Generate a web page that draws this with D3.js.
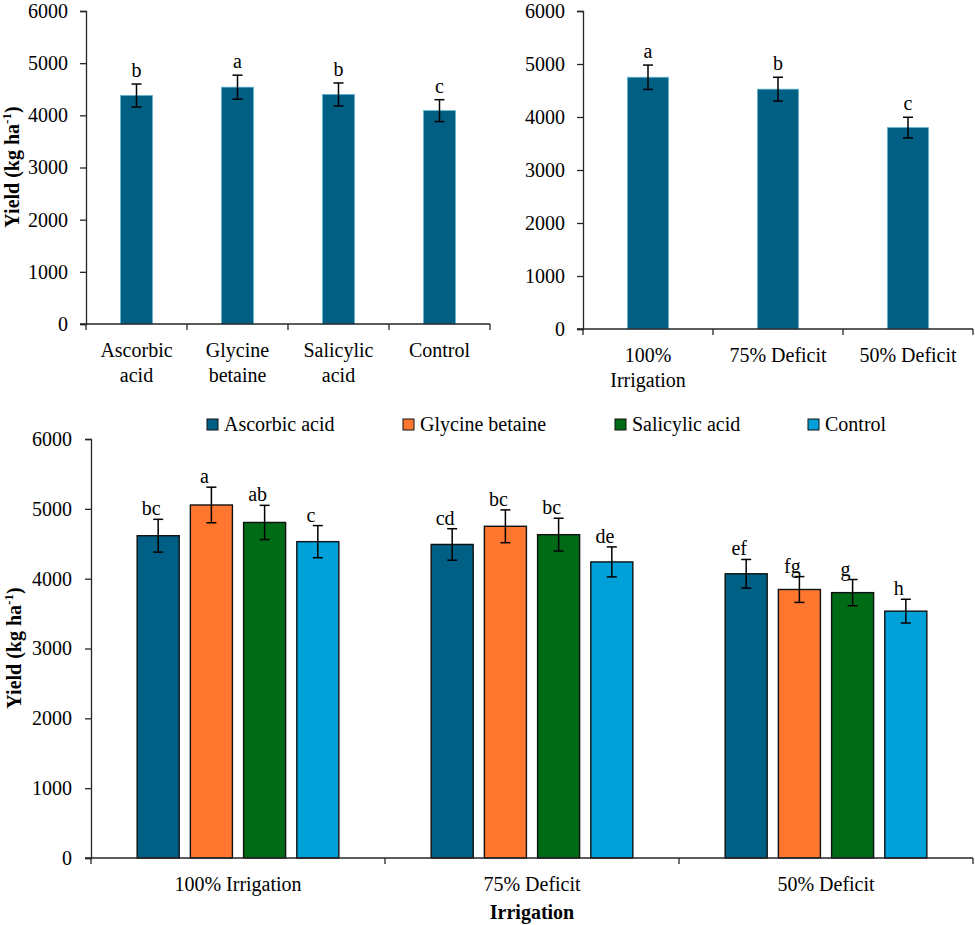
<!DOCTYPE html>
<html>
<head>
<meta charset="utf-8">
<script src="https://cdn.jsdelivr.net/npm/d3@7"></script>
<style>
  body { margin: 0; background: #fff; }
  svg { display: block; }
  svg text { font-family: "Liberation Serif", "Times New Roman", serif; }
</style>
</head>
<body>
<svg id="chart" width="975" height="925"></svg>
<script>
// ---------- data ----------
const yTicks = [0, 1000, 2000, 3000, 4000, 5000, 6000];

// Panel A: foliar treatments (main effect)
const treatCats = [["Ascorbic", "acid"], ["Glycine", "betaine"], ["Salicylic", "acid"], ["Control"]];
const treatMeans = [4380, 4540, 4400, 4090];
const treatErr = [220, 230, 220, 210];
const treatLetters = ["b", "a", "b", "c"];

// Panel B: irrigation (main effect)
const irrCats = [["100%", "Irrigation"], ["75% Deficit"], ["50% Deficit"]];
const irrMeans = [4750, 4525, 3800];
const irrErr = [230, 225, 195];
const irrLetters = ["a", "b", "c"];

// Panel C: interaction
const groups = ["100% Irrigation", "75% Deficit", "50% Deficit"];
const series = ["Ascorbic acid", "Glycine betaine", "Salicylic acid", "Control"];
const colors = ["#005F84", "#FF772F", "#006B17", "#00A0D8"];
const interMeans = [
  [4615, 5055, 4805, 4530],   // 100% Irrigation
  [4490, 4750, 4630, 4240],   // 75% Deficit
  [4070, 3845, 3800, 3535]    // 50% Deficit
];
const interErr = [
  [235, 255, 245, 230],
  [225, 235, 235, 215],
  [205, 185, 188, 170]
];
const interLetters = [
  ["bc", "a", "ab", "c"],
  ["cd", "bc", "bc", "de"],
  ["ef", "fg", "g", "h"]
];

// ---------- drawing ----------
const FONT = "Liberation Serif, Times New Roman, serif";
const svg = d3.select("#chart");
const axisColor = "#262626";

function yAxisTitle(g, x, y) {
  const t = g.append("text")
    .attr("transform", `translate(${x},${y}) rotate(-90)`)
    .attr("text-anchor", "middle")
    .attr("font-family", FONT)
    .attr("font-weight", "bold")
    .attr("font-size", 20)
    .attr("fill", "#000");
  t.append("tspan").text("Yield (kg ha");
  t.append("tspan").attr("dy", -8).attr("font-size", 13).text("-1");
  t.append("tspan").attr("dy", 8).text(")");
}

function styleAxis(g) {
  g.attr("font-family", FONT);
  g.selectAll(".domain").attr("stroke", axisColor).attr("stroke-width", 1.3);
  g.selectAll(".tick line").attr("stroke", axisColor).attr("stroke-width", 1.3);
  g.selectAll(".tick text").attr("fill", "#000").attr("font-size", 20).attr("font-family", FONT);
}

function simplePanel(opts) {
  const { x0, x1, yTop, yBot, cats, means, errs, letters, labelBase } = opts;
  const g = svg.append("g").attr("font-family", FONT);
  const y = d3.scaleLinear().domain([0, 6000]).range([yBot, yTop]);
  const x = d3.scaleBand().domain(d3.range(cats.length)).range([x0, x1]).paddingInner(0).paddingOuter(0);
  const bw = x.bandwidth() * 0.315;

  g.selectAll("rect.bar").data(means).join("rect")
    .attr("class", "bar")
    .attr("x", (d, i) => x(i) + x.bandwidth() / 2 - bw / 2)
    .attr("y", d => y(d))
    .attr("width", bw)
    .attr("height", d => yBot - y(d))
    .attr("fill", "#005F82")
    .attr("stroke", "#5FB3CC")
    .attr("stroke-width", 0.8);

  const ya = g.append("g").attr("transform", `translate(${x0},0)`)
    .call(d3.axisLeft(y).tickValues(yTicks).tickFormat(d3.format("d")).tickSize(6).tickPadding(12));
  styleAxis(ya);

  const xa = g.append("g").attr("transform", `translate(0,${yBot})`);
  xa.append("line").attr("x1", x0 - 6).attr("x2", x1).attr("y1", 0).attr("y2", 0)
    .attr("stroke", axisColor).attr("stroke-width", 1.3);
  const bounds = d3.range(cats.length + 1).map(i => i < cats.length ? x(i) : x1);
  xa.selectAll("line.tk").data(bounds).join("line").attr("class", "tk")
    .attr("x1", d => d).attr("x2", d => d).attr("y1", 0).attr("y2", 6)
    .attr("stroke", axisColor).attr("stroke-width", 1.3);
  cats.forEach((lines, i) => {
    const t = xa.append("text").attr("text-anchor", "middle").attr("font-size", 20)
      .attr("font-family", FONT).attr("fill", "#000");
    lines.forEach((ln, j) => {
      t.append("tspan").attr("x", x(i) + x.bandwidth() / 2).attr("y", labelBase - yBot + j * 25).text(ln);
    });
  });

  const cap = 5;
  means.forEach((m, i) => {
    const cx = x(i) + x.bandwidth() / 2;
    const e = errs[i];
    g.append("line").attr("x1", cx).attr("x2", cx).attr("y1", y(m + e)).attr("y2", y(m - e)).attr("stroke", "#000").attr("stroke-width", 1.5);
    g.append("line").attr("x1", cx - cap).attr("x2", cx + cap).attr("y1", y(m + e)).attr("y2", y(m + e)).attr("stroke", "#000").attr("stroke-width", 1.5);
    g.append("line").attr("x1", cx - cap).attr("x2", cx + cap).attr("y1", y(m - e)).attr("y2", y(m - e)).attr("stroke", "#000").attr("stroke-width", 1.5);
    g.append("text").attr("x", cx).attr("y", y(m + e) - 7).attr("text-anchor", "middle")
      .attr("font-family", FONT).attr("font-size", 20).attr("fill", "#000").text(letters[i]);
  });
  return g;
}

// Panel A
const gA = simplePanel({ x0: 86, x1: 490, yTop: 11, yBot: 324, cats: treatCats, means: treatMeans, errs: treatErr, letters: treatLetters, labelBase: 357 });
yAxisTitle(gA, 19, 167);

// Panel B
simplePanel({ x0: 583, x1: 973, yTop: 11, yBot: 329, cats: irrCats, means: irrMeans, errs: irrErr, letters: irrLetters, labelBase: 362 });

// Panel C
(function () {
  const x0 = 91, x1 = 973, yTop = 439, yBot = 858;
  const g = svg.append("g").attr("font-family", FONT);
  const y = d3.scaleLinear().domain([0, 6000]).range([yBot, yTop]);
  const x = d3.scaleBand().domain(groups).range([x0, x1]).paddingInner(0).paddingOuter(0);
  const inner = d3.scaleBand().domain(series)
    .range([x.bandwidth() * 0.157, x.bandwidth() * 0.843]).paddingInner(0.21).paddingOuter(0);

  groups.forEach((grp, gi) => {
    const gg = g.append("g").attr("transform", `translate(${x(grp)},0)`);
    gg.selectAll("rect").data(interMeans[gi]).join("rect")
      .attr("x", (d, si) => inner(series[si]))
      .attr("y", d => y(d))
      .attr("width", inner.bandwidth())
      .attr("height", d => yBot - y(d))
      .attr("fill", (d, si) => colors[si])
      .attr("stroke", "#111")
      .attr("stroke-width", 1.4);
  });

  const ya = g.append("g").attr("transform", `translate(${x0},0)`)
    .call(d3.axisLeft(y).tickValues(yTicks).tickFormat(d3.format("d")).tickSize(6).tickPadding(13));
  styleAxis(ya);

  const xa = g.append("g").attr("transform", `translate(0,${yBot})`);
  xa.append("line").attr("x1", x0 - 6).attr("x2", x1).attr("y1", 0).attr("y2", 0)
    .attr("stroke", axisColor).attr("stroke-width", 1.3);
  const bounds = groups.map(gname => x(gname)).concat([x1]);
  xa.selectAll("line.tk").data(bounds).join("line").attr("class", "tk")
    .attr("x1", d => d).attr("x2", d => d).attr("y1", 0).attr("y2", 6)
    .attr("stroke", axisColor).attr("stroke-width", 1.3);
  xa.selectAll("text.cat").data(groups).join("text").attr("class", "cat")
    .attr("x", d => x(d) + x.bandwidth() / 2).attr("y", 33)
    .attr("text-anchor", "middle").attr("font-family", FONT).attr("font-size", 20).attr("fill", "#000").text(d => d);

  const cap = 5;
  groups.forEach((grp, gi) => {
    series.forEach((s, si) => {
      const cx = x(grp) + inner(s) + inner.bandwidth() / 2;
      const m = interMeans[gi][si], e = interErr[gi][si];
      g.append("line").attr("x1", cx).attr("x2", cx).attr("y1", y(m + e)).attr("y2", y(m - e)).attr("stroke", "#000").attr("stroke-width", 1.5);
      g.append("line").attr("x1", cx - cap).attr("x2", cx + cap).attr("y1", y(m + e)).attr("y2", y(m + e)).attr("stroke", "#000").attr("stroke-width", 1.5);
      g.append("line").attr("x1", cx - cap).attr("x2", cx + cap).attr("y1", y(m - e)).attr("y2", y(m - e)).attr("stroke", "#000").attr("stroke-width", 1.5);
      g.append("text").attr("x", cx - 7).attr("y", y(m + e) - 4).attr("text-anchor", "middle")
        .attr("font-family", FONT).attr("font-size", 20).attr("fill", "#000").text(interLetters[gi][si]);
    });
  });

  g.append("text").attr("x", (x0 + x1) / 2).attr("y", 919).attr("text-anchor", "middle")
    .attr("font-family", FONT).attr("font-weight", "bold").attr("font-size", 20).attr("fill", "#000").text("Irrigation");
  yAxisTitle(g, 21, 648);

  const legX = [207, 403, 615, 808];
  const leg = g.append("g");
  series.forEach((s, si) => {
    leg.append("rect").attr("x", legX[si]).attr("y", 419).attr("width", 11).attr("height", 11)
      .attr("fill", colors[si]).attr("stroke", "#111").attr("stroke-width", 1);
    leg.append("text").attr("x", legX[si] + 17).attr("y", 431).attr("font-family", FONT)
      .attr("font-size", 20).attr("fill", "#000").text(s);
  });
})();
</script>
</body>
</html>
